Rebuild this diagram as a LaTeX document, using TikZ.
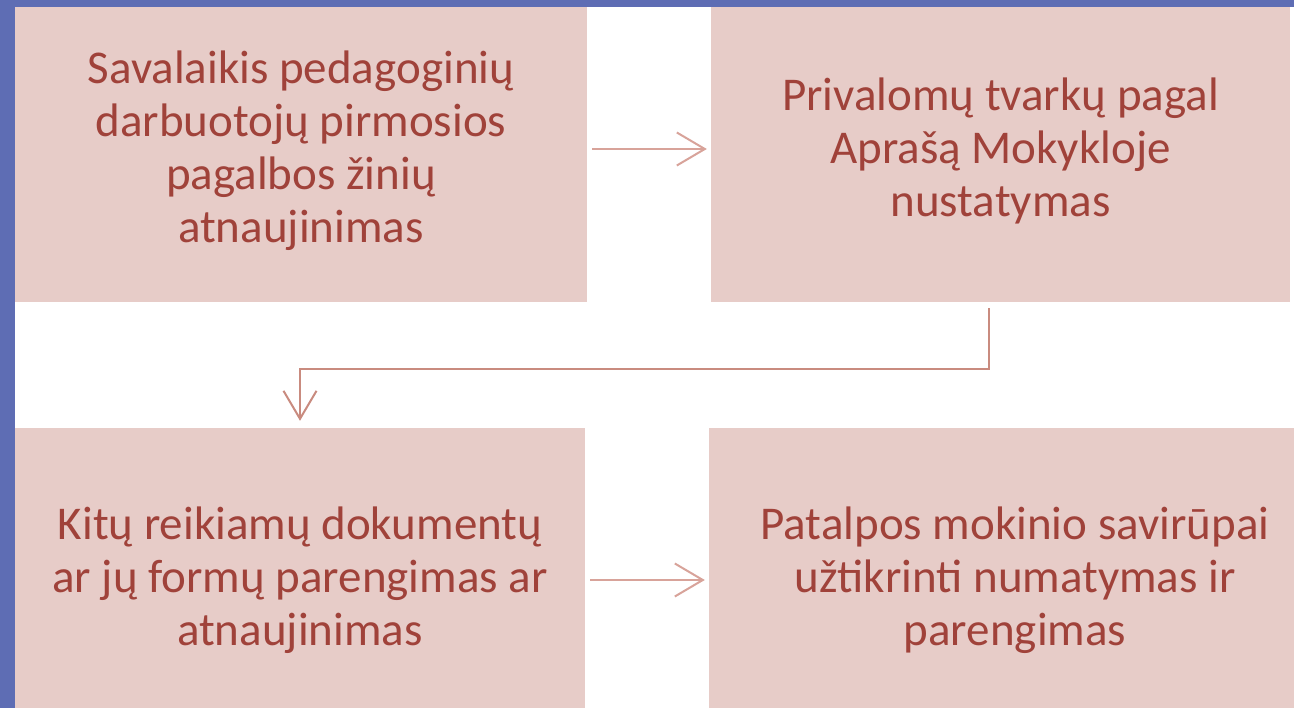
\documentclass[tikz,border=0pt]{standalone}
\usepackage{fontspec}
\setmainfont{Carlito}
\usetikzlibrary{arrows.meta}
\definecolor{bandblue}{HTML}{5E6DB4}
\definecolor{boxfill}{HTML}{E7CCC8}
\definecolor{txtred}{HTML}{A0423A}
\definecolor{arrowc}{HTML}{D8A39A}
\definecolor{elbowc}{HTML}{C98B7F}
\begin{document}
\begin{tikzpicture}[x=1pt,y=1pt,
  box/.style={fill=boxfill,draw=none,inner sep=0pt,align=center,text=txtred,
    font=\fontsize{47}{53}\selectfont},
  conn/.style={line width=2pt,-{Straight Barb[length=28pt,width=33pt,line width=2pt]}}]
\useasboundingbox (0,0) rectangle (1294,-708);
\clip (0,0) rectangle (1294,-708);
\fill[white] (0,0) rectangle (1294,-708);
\node[box,minimum width=572pt,minimum height=302pt] (b1) at (301,-151)
  {Savalaikis pedagoginių\\darbuotojų pirmosios\\pagalbos žinių\\atnaujinimas};
\node[box,minimum width=579pt,minimum height=302pt] (b2) at (1000.5,-151)
  {Privalomų tvarkų pagal\\Aprašą Mokykloje\\nustatymas};
\node[box,minimum width=570pt,minimum height=304pt] (b3) at (300,-580)
  {Kitų reikiamų dokumentų\\ar jų formų parengimas ar\\atnaujinimas};
\node[box,minimum width=612pt,minimum height=304pt] (b4) at (1015,-580)
  {Patalpos mokinio savirūpai\\užtikrinti numatymas ir\\parengimas};
\draw[conn,arrowc,shorten <=5pt,shorten >=4pt] ([yshift=2pt]b1.east) -- ([yshift=2pt]b2.west);
\draw[conn,arrowc,shorten <=5pt,shorten >=4pt] (b3.east) -- (b4.west);
\draw[conn,elbowc,shorten <=6pt,shorten >=7pt] ([xshift=-11.5pt]b2.south) |- ([yshift=59pt]b3.north) -- (b3.north);
\fill[bandblue] (0,0) rectangle (1294,-7);
\fill[bandblue] (0,0) rectangle (15,-708);
\end{tikzpicture}
\end{document}
